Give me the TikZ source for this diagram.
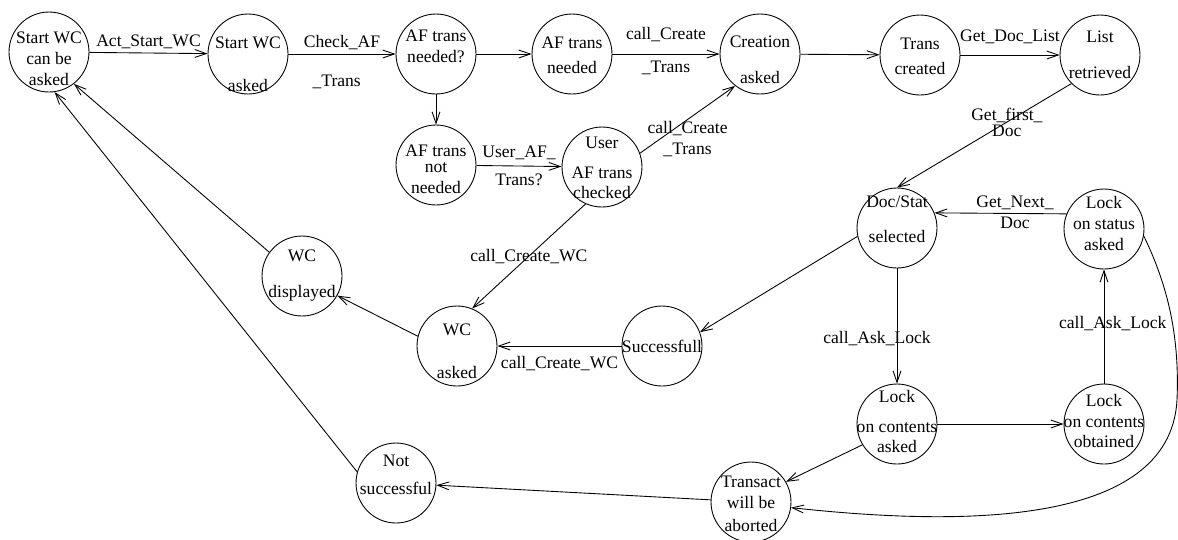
\documentclass[tikz,border=0pt]{standalone}
\usepackage{fontspec}
\setmainfont{Liberation Serif}
\usetikzlibrary{arrows.meta}

\begin{document}
\begin{tikzpicture}[x=0.02cm, y=-0.02cm,
    state/.style={circle, draw, line width=0.5pt, minimum size=1.6cm, inner sep=0pt},
    statetext/.style={align=center, inner sep=0pt, font=\fontsize{10}{12}\selectfont},
    trans/.style={-{Straight Barb[length=6.5pt, width=4.5pt]}, line width=0.5pt},
    lbl/.style={inner sep=0pt, font=\fontsize{10}{12}\selectfont}
]
\useasboundingbox (0,0) rectangle (1178,539);

% top row
\node[state, label={[statetext, yshift=-3.7pt]center:{Start WC\\can be\\asked}}](start) at (49,52){};
\node[state, label={[statetext, yshift=-6pt]center:{Start WC\\[12.5pt]asked}}](startasked) at (248,54){};
\node[state, label={[statetext, yshift=4.5pt]center:{AF trans\\needed?}}](afq) at (436,54){};
\node[state, label={[statetext, yshift=-0.9pt]center:{AF trans\\[2.3pt]needed}}](afneeded) at (572,54){};
\node[state, label={[statetext, yshift=-3.4pt]center:{Creation\\[8.5pt]asked}}](creation) at (760,54){};
\node[state, label={[statetext, yshift=-0.9pt]center:{Trans\\[2.3pt]created}}](created) at (920,55){};
\node[state, label={[statetext]center:{List\\[8.5pt]retrieved}}](list) at (1100,55){};

% second row
\node[state, label={[statetext, yshift=-2.6pt]center:{AF trans\\[-3pt]not\\needed}}](afnot) at (436,165){};
\node[state, label={[statetext, yshift=-0.6pt]center:{User\\[5pt]AF trans\\[-0.5pt]checked}}](user) at (602,167){};

% right part
\node[state, label={[statetext, yshift=4.8pt]center:{Doc/Stat\\[8pt]selected}}](docstat) at (897,228){};
\node[state, label={[statetext, yshift=3.1pt]center:{Lock\\on status\\asked}}](lockstatus) at (1104,229){};
\node[state, label={[statetext, yshift=1.4pt]center:{Lock\\[4.6pt]on contents\\[-0.5pt]asked}}](lockasked) at (897,424){};
\node[state, label={[statetext, yshift=1.7pt]center:{Lock\\on contents\\[-0.5pt]obtained}}](lockgot) at (1104,424){};

% lower part
\node[state, label={[statetext]center:{WC\\[8.5pt]displayed}}](wcshown) at (302,276){};
\node[state, label={[statetext, yshift=-3.1pt]center:{WC\\[12.5pt]asked}}](wcasked) at (457,346){};
\node[state, label={[statetext]center:{Successfull}}](success) at (662,346){};
\node[state, label={[statetext, yshift=-1.1pt]center:{Transact\\will be\\[1pt]aborted}}](abort) at (751,502){};
\node[state, label={[statetext, yshift=4.6pt]center:{Not\\[4pt]successful}}](failed) at (396,483){};

% transitions
\draw[trans] (start) -- node[lbl, above=2pt]{Act\_Start\_WC} (startasked);
\draw[trans] (startasked) -- node[lbl, above=2pt]{Check\_AF} node[lbl, below=11.8pt, xshift=-3pt]{\_Trans} (afq);
\draw[trans] (afq) -- (afneeded);
\draw[trans] (afneeded) -- node[lbl, above=6.7pt]{call\_Create} node[lbl, below=3.8pt]{\_Trans} (creation);
\draw[trans] (creation) -- (created);
\draw[trans] (created) -- node[lbl, above=6pt]{Get\_Doc\_List} (list);
\draw[trans] (list.south west) -- node[lbl, pos=0.37, align=center]{Get\_first\_\\[-3pt]Doc} (docstat.north);
\draw[trans] (afq) -- (afnot);
\draw[trans] (afnot) -- node[lbl, above=3.2pt]{User\_AF\_} node[lbl, below=4.4pt]{Trans?} (user);
\draw[trans] (user.20) -- node[lbl, pos=0.5, below=1pt, align=center]{call\_Create\\\_Trans} (creation.232);
\draw[trans] (user.246) -- node[lbl, midway]{call\_Create\_WC} (wcasked.68);
\draw[trans] (lockstatus.158) -- node[lbl, pos=0.39, above=2pt]{Get\_Next\_} node[lbl, pos=0.39, below=1.5pt]{Doc} (docstat.22);
\draw[trans] (docstat.192) -- (success.20);
\draw[trans] (docstat) -- node[lbl, pos=0.61, xshift=-11.4pt]{call\_Ask\_Lock} (lockasked);
\draw[trans] (lockasked) -- (lockgot);
\draw[trans] (lockgot) -- node[lbl, pos=0.53, xshift=5pt]{call\_Ask\_Lock} (lockstatus);
\draw[trans] (lockstatus.-10) .. controls (1165,280) and (1180,330) .. (1177,400)
    .. controls (1170,530) and (950,525) .. (abort.-8);
\draw[trans] (lockasked.211) -- (abort.30);
\draw[trans] (abort) -- (failed);
\draw[trans] (failed.164) -- (start.-82);
\draw[trans] (wcshown.144) -- (start.-52);
\draw[trans] (wcasked.166) -- (wcshown.-29);
\draw[trans] (success) -- node[lbl, below=5.5pt]{call\_Create\_WC} (wcasked);
\end{tikzpicture}
\end{document}
